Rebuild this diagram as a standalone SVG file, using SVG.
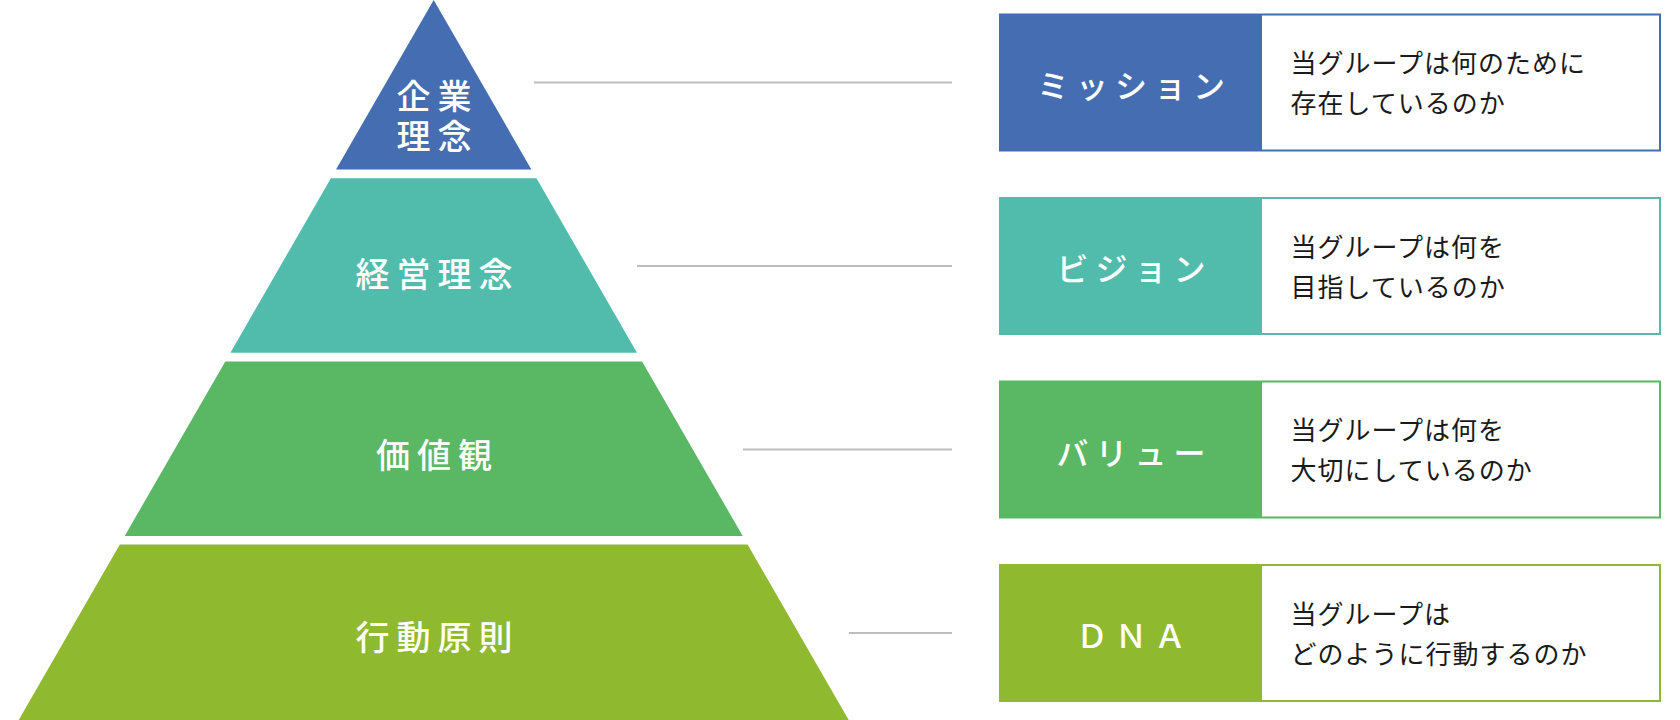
<svg xmlns="http://www.w3.org/2000/svg" width="1680" height="720" viewBox="0 0 1680 720">
  <style>
    .lvl { font-family: "Noto Sans", "Noto Sans CJK JP", sans-serif; font-size: 34px; font-weight: 500; fill: #ffffff; text-anchor: middle; letter-spacing: 7px; }
    .lbl { font-family: "Noto Sans", "Noto Sans CJK JP", sans-serif; font-size: 32px; font-weight: 500; fill: #ffffff; text-anchor: middle; letter-spacing: 7px; }
    .desc { font-family: "Noto Sans", "Noto Sans CJK JP", sans-serif; font-size: 26px; fill: #1a1a1a; letter-spacing: 1px; }
    .conn { stroke: #bdbdbd; stroke-width: 2; fill: none; }
    .box { fill: #ffffff; stroke-width: 2; }
  </style>
  <rect width="1680" height="720" fill="#ffffff"/>

  <g id="connectors">
    <line class="conn" x1="534" y1="82.5" x2="952" y2="82.5"/>
    <line class="conn" x1="637" y1="266" x2="952" y2="266"/>
    <line class="conn" x1="743" y1="449.5" x2="952" y2="449.5"/>
    <line class="conn" x1="849" y1="633" x2="952" y2="633"/>
  </g>

  <g id="level-kigyo-rinen">
    <polygon points="433.7,0 531.4,169.5 336,169.5" fill="#456DB2"/>
    <text class="lvl"><tspan x="437.5" y="108.6">企業</tspan><tspan x="437.5" y="149.3">理念</tspan></text>
  </g>
  <g id="level-keiei-rinen">
    <polygon points="330.9,178.3 536.5,178.3 637,352.7 230.4,352.7" fill="#52BCAC"/>
    <text class="lvl" x="437.5" y="286.6">経営理念</text>
  </g>
  <g id="level-kachikan">
    <polygon points="225.3,361.5 642.1,361.5 742.7,536 124.7,536" fill="#5AB764"/>
    <text class="lvl" x="437.5" y="468">価値観</text>
  </g>
  <g id="level-kodo-gensoku">
    <polygon points="119.8,544.5 747.6,544.5 848.7,720 18.7,720" fill="#8FBA30"/>
    <text class="lvl" x="437.5" y="650">行動原則</text>
  </g>

  <g id="box-mission">
    <rect class="box" x="1000" y="14.5" width="660" height="136" stroke="#456DB2"/>
    <rect x="1000" y="14.5" width="262" height="136" fill="#456DB2"/>
    <text class="lbl" x="1134.5" y="98">ミッション</text>
    <text class="desc"><tspan x="1290.5" y="73.2">当グループは何のために</tspan><tspan x="1290.5" y="113.2">存在しているのか</tspan></text>
  </g>
  <g id="box-vision">
    <rect class="box" x="1000" y="198" width="660" height="136" stroke="#52BCAC"/>
    <rect x="1000" y="198" width="262" height="136" fill="#52BCAC"/>
    <text class="lbl" x="1134.5" y="281">ビジョン</text>
    <text class="desc"><tspan x="1290.5" y="256.7">当グループは何を</tspan><tspan x="1290.5" y="296.7">目指しているのか</tspan></text>
  </g>
  <g id="box-value">
    <rect class="box" x="1000" y="381.5" width="660" height="136" stroke="#5AB764"/>
    <rect x="1000" y="381.5" width="262" height="136" fill="#5AB764"/>
    <text class="lbl" x="1134.5" y="464.5">バリュー</text>
    <text class="desc"><tspan x="1290.5" y="440.2">当グループは何を</tspan><tspan x="1290.5" y="480.2">大切にしているのか</tspan></text>
  </g>
  <g id="box-dna">
    <rect class="box" x="1000" y="565" width="660" height="136" stroke="#8FBA30"/>
    <rect x="1000" y="565" width="262" height="136" fill="#8FBA30"/>
    <text class="lbl" x="1134.5" y="648">ＤＮＡ</text>
    <text class="desc"><tspan x="1290.5" y="623.7">当グループは</tspan><tspan x="1290.5" y="663.7">どのように行動するのか</tspan></text>
  </g>
</svg>
